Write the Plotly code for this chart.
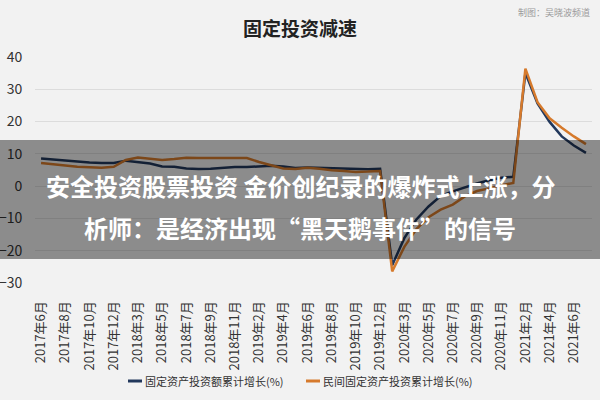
import plotly.graph_objects as go

categories = [
    "2017年6月", "2017年7月", "2017年8月", "2017年9月", "2017年10月", "2017年11月", "2017年12月",
    "2018年2月", "2018年3月", "2018年4月", "2018年5月", "2018年6月", "2018年7月", "2018年8月",
    "2018年9月", "2018年10月", "2018年11月", "2018年12月",
    "2019年2月", "2019年3月", "2019年4月", "2019年5月", "2019年6月", "2019年7月", "2019年8月",
    "2019年9月", "2019年10月", "2019年11月", "2019年12月",
    "2020年2月", "2020年3月", "2020年4月", "2020年5月", "2020年6月", "2020年7月", "2020年8月",
    "2020年9月", "2020年10月", "2020年11月", "2020年12月",
    "2021年2月", "2021年3月", "2021年4月", "2021年5月", "2021年6月", "2021年7月",
]

fai_growth = [
    8.6, 8.3, 7.8, 7.5, 7.3, 7.2, 7.2,
    7.9, 7.5, 7.0, 6.1, 6.0, 5.5, 5.3, 5.4, 5.7, 5.9, 5.9,
    6.1, 6.3, 6.1, 5.6, 5.8, 5.7, 5.5, 5.4, 5.2, 5.2, 5.4,
    -24.5, -16.1, -10.3, -6.3, -3.1, -1.6, -0.3, 0.8, 1.8, 2.6, 2.9,
    35.0, 25.6, 19.9, 15.4, 12.6, 10.3,
]

private_growth = [
    7.2, 6.9, 6.4, 6.0, 5.8, 5.7, 6.0,
    8.1, 8.9, 8.4, 8.1, 8.4, 8.8, 8.7, 8.7, 8.7, 8.7, 8.7,
    7.5, 6.4, 5.5, 5.3, 5.7, 5.4, 4.9, 4.7, 4.4, 4.5, 4.7,
    -26.4, -18.8, -13.3, -9.6, -7.3, -5.7, -3.2, -1.5, -0.7, 0.3, 1.0,
    36.4, 26.0, 21.0, 18.1, 15.4, 13.0,
]

tick_labels = categories[0::2]
y_ticks = [-30, -20, -10, 0, 10, 20, 30, 40]

series_names = ["固定资产投资额累计增长(%)", "民间固定资产投资累计增长(%)"]

title_text = "固定投资减速"
credit_text = "制图：吴晓波频道"
overlay_lines = ["安全投资股票投资 金价创纪录的爆炸式上涨，分", "析师：是经济出现“黑天鹅事件”的信号"]

FONT = "Noto Sans CJK SC, Noto Sans, sans-serif"
BLUE = "#22385c"
ORANGE = "#d67a2c"
BG = "#f2f2f2"
colors = [BLUE, ORANGE]

fig = go.Figure()
for name, vals, col in zip(series_names, [fai_growth, private_growth], colors):
    fig.add_trace(go.Scatter(x=categories, y=vals, mode="lines", name=name,
                             line=dict(color=col, width=2.5), showlegend=False))

L, R, T, B = 35, 8, 57, 117
PW = 600 - L - R
PH = 400 - T - B

def px_x(x):
    return (x - L) / PW

def px_y(y):
    return (400 - B - y) / PH

fig.update_layout(
    width=600, height=400,
    margin=dict(l=L, r=R, t=T, b=B, autoexpand=False),
    paper_bgcolor=BG, plot_bgcolor=BG,
    font=dict(family=FONT, color="#333333", size=13),
    showlegend=False,
    xaxis=dict(type="category", range=[-0.5, len(categories) - 0.5], automargin=False,
               tickmode="array", tickvals=tick_labels, ticktext=tick_labels,
               tickangle=-90, showgrid=False, showline=False, zeroline=False,
               ticks="outside", ticklen=12, tickcolor="rgba(0,0,0,0)",
               tickfont=dict(size=13, color="#333333", family=FONT)),
    yaxis=dict(range=[-30, 40], tickvals=y_ticks, showgrid=True, gridcolor="#dcdcdc",
               gridwidth=1, zeroline=False, showline=False, automargin=False,
               ticks="outside", ticklen=9, tickcolor="rgba(0,0,0,0)",
               tickfont=dict(size=14, color="#333333", family=FONT)),
)

# legend (short line keys, as in the reference)
legend_x = [128, 306]
for name, col, lx in zip(series_names, colors, legend_x):
    fig.add_shape(type="line", xref="paper", yref="paper",
                  x0=px_x(lx), x1=px_x(lx + 14), y0=px_y(381), y1=px_y(381),
                  line=dict(color=col, width=3))
    fig.add_annotation(text=name, xref="paper", yref="paper",
                       x=px_x(lx + 15), y=px_y(381), xanchor="left", yanchor="middle",
                       showarrow=False, font=dict(size=11, color="#333333", family=FONT))

fig.add_annotation(text=f"<b>{title_text}</b>", xref="paper", yref="paper",
                   x=px_x(300), y=px_y(27), xanchor="center", yanchor="middle",
                   showarrow=False, font=dict(size=19, color="#222222", family=FONT))
fig.add_annotation(text=credit_text, xref="paper", yref="paper",
                   x=px_x(592), y=px_y(12), xanchor="right", yanchor="middle",
                   showarrow=False, font=dict(size=9, color="#9a9a9a", family=FONT))

fig.add_shape(type="rect", xref="paper", yref="paper",
              x0=px_x(0), x1=px_x(600), y0=px_y(259), y1=px_y(140),
              fillcolor="rgba(0,0,0,0.42)", line=dict(width=0), layer="above")

for text, yc in zip(overlay_lines, [185, 227]):
    fig.add_annotation(text=f"<b>{text}</b>", xref="paper", yref="paper",
                       x=px_x(300), y=px_y(yc), xanchor="center", yanchor="middle",
                       showarrow=False, font=dict(size=24, color="#ffffff", family=FONT))

fig.write_html("out.html", config={"displayModeBar": False},
               post_script="document.body.style.margin='0';document.body.style.background='%s';" % BG)
